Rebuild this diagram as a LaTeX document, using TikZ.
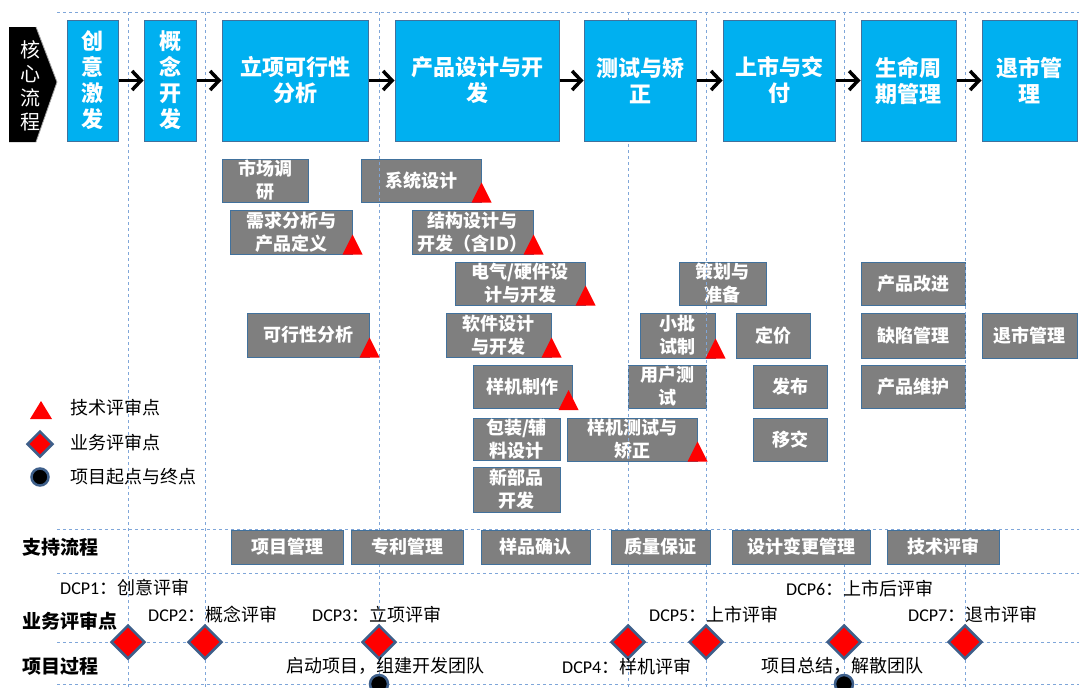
\documentclass[tikz,border=0pt]{standalone}
\usepackage{fontspec}
\setmainfont{Noto Sans CJK SC}
\newfontfamily\latf{Carlito}
\usetikzlibrary{shapes.geometric,arrows.meta}
\definecolor{bblue}{HTML}{00B0F0}
\definecolor{bedge}{HTML}{41719C}
\definecolor{ggray}{HTML}{7F7F7F}
\definecolor{dline}{HTML}{7FA6D9}
\definecolor{dedge}{HTML}{3E5F8A}
\begin{document}
\begin{tikzpicture}[x=1pt,y=-1pt,
  bluebox/.style={draw=bedge,line width=1pt,fill=bblue,text=white,font=\fontsize{22}{26}\selectfont\bfseries,align=center,inner sep=0pt,minimum height=121pt},
  graybox/.style={draw=bedge,line width=1pt,fill=ggray,text=white,font=\fontsize{18}{23}\selectfont\bfseries,align=center,inner sep=0pt},
  flowarrow/.style={line width=3pt,-{Straight Barb[length=9pt,width=19pt,line width=3.5pt]}},
  gridline/.style={dline,line width=1pt,dash pattern=on 3pt off 3pt},
  dcp/.style={diamond,fill=red,draw=dedge,line width=2.5pt,minimum width=34pt,minimum height=34pt,inner sep=0pt},
  endpt/.style={circle,fill=black,draw=dedge,line width=2.5pt,minimum size=18pt,inner sep=0pt},
  lbl/.style={anchor=west,inner sep=0pt,font=\fontsize{18}{22}\selectfont},
  rowlbl/.style={anchor=west,inner sep=0pt,font=\fontsize{19}{22}\selectfont\bfseries},
  tri/.pic={\fill[red] (-10,0) -- (10,0) -- (0,-20) -- cycle;}
]
\useasboundingbox (0,0) rectangle (1079,688);
\fill[white] (0,0) rectangle (1079,688);

% gray activity boxes (below the grid lines)
\node[graybox,minimum width=86pt,minimum height=43pt] (g1) at (265,180.5) {市场调\\研};
\node[graybox,minimum width=120pt,minimum height=43pt] (g2) at (421,180.5) {系统设计};
\node[graybox,minimum width=122pt,minimum height=44pt] (g3) at (291,232) {需求分析与\\产品定义};
\node[graybox,minimum width=121pt,minimum height=44pt] (g4) at (472.5,232) {结构设计与\\开发（含ID）};
\node[graybox,minimum width=130pt,minimum height=43pt] (g5) at (520,283.5) {电气/硬件设\\计与开发};
\node[graybox,minimum width=122pt,minimum height=44pt] (g6) at (308,335) {可行性分析};
\node[graybox,minimum width=105pt,minimum height=44pt] (g7) at (498.5,335) {软件设计\\与开发};
\node[graybox,minimum width=99pt,minimum height=43pt] (g8) at (522.5,386.5) {样机制作};
\node[graybox,minimum width=87pt,minimum height=42pt] (g9) at (516.5,439) {包装/辅\\料设计};
\node[graybox,minimum width=87pt,minimum height=45pt] (g10) at (516.5,489.5) {新部品\\开发};
\node[graybox,minimum width=130pt,minimum height=43pt] (g11) at (632,439.5) {样机测试与\\矫正};
\node[graybox,minimum width=87pt,minimum height=43pt] (g12) at (722.5,283.5) {策划与\\准备};
\node[graybox,minimum width=75pt,minimum height=45pt] (g13) at (677.5,335.5) {小批\\试制};
\node[graybox,minimum width=74pt,minimum height=45pt] (g14) at (773,335.5) {定价};
\node[graybox,minimum width=78pt,minimum height=43pt] (g15) at (667,386.5) {用户测\\试};
\node[graybox,minimum width=74pt,minimum height=43pt] (g16) at (790,386.5) {发布};
\node[graybox,minimum width=74pt,minimum height=43pt] (g17) at (790,439.5) {移交};
\node[graybox,minimum width=104pt,minimum height=43pt] (g18) at (913,283.5) {产品改进};
\node[graybox,minimum width=104pt,minimum height=45pt] (g19) at (913,335.5) {缺陷管理};
\node[graybox,minimum width=104pt,minimum height=43pt] (g20) at (913,386.5) {产品维护};
\node[graybox,minimum width=95pt,minimum height=45pt] (g21) at (1029.5,335.5) {退市管理};

% grid lines
\foreach \x in {128,205,379,628,706,844,965}
  \draw[gridline] (\x,12) -- (\x,688);
\foreach \y in {12,529,573,642,684}
  \draw[gridline] (57,\y) -- (1079,\y);

% core process label
\fill[black] (9,27) -- (36,27) -- (57,82) -- (36,142) -- (9,142) -- cycle;
\draw[gray!70,line width=0.8pt] (36,27) -- (57,82) -- (36,142);
\node[text=white,align=center,inner sep=0pt,font=\fontsize{20}{24}\selectfont] (core) at (30,86) {核\\心\\流\\程};

% blue phase boxes
\node[bluebox,minimum width=51pt] (b1) at (92.5,80.5) {创\\意\\激\\发};
\node[bluebox,minimum width=52pt] (b2) at (170,80.5) {概\\念\\开\\发};
\node[bluebox,minimum width=146pt] (b3) at (295,80.5) {立项可行性\\分析};
\node[bluebox,minimum width=164pt] (b4) at (477,80.5) {产品设计与开\\发};
\node[bluebox,minimum width=112pt] (b5) at (640,80.5) {测试与矫\\正};
\node[bluebox,minimum width=112pt] (b6) at (779,80.5) {上市与交\\付};
\node[bluebox,minimum width=95pt] (b7) at (908.5,80.5) {生命周\\期管理};
\node[bluebox,minimum width=95pt] (b8) at (1029.5,80.5) {退市管\\理};
\foreach \a/\b in {b1/b2,b2/b3,b3/b4,b4/b5,b5/b6,b6/b7,b7/b8}
  \draw[flowarrow] (\a.east) -- (\b.west);

% technical review triangles
\pic at (g2.south east) {tri};
\pic at (g3.south east) {tri};
\pic at (g4.south east) {tri};
\pic at (g5.south east) {tri};
\pic at (g6.south east) {tri};
\pic at (g7.south east) {tri};
\pic at ([xshift=-4pt,yshift=-1.5pt]g8.south east) {tri};
\pic at (g11.south east) {tri};
\pic at (g13.south east) {tri};

% support process boxes
\node[graybox,minimum width=112pt,minimum height=34pt] (s1) at (287,547) {项目管理};
\node[graybox,minimum width=112pt,minimum height=34pt] (s2) at (407,547) {专利管理};
\node[graybox,minimum width=109pt,minimum height=34pt] (s3) at (535.5,547) {样品确认};
\node[graybox,minimum width=99pt,minimum height=34pt] (s4) at (660.5,547) {质量保证};
\node[graybox,minimum width=138pt,minimum height=34pt] (s5) at (801,547) {设计变更管理};
\node[graybox,minimum width=112pt,minimum height=34pt] (s6) at (943,547) {技术评审};

% row labels
\node[rowlbl] (r1) at (22,547) {支持流程};
\node[rowlbl] (r2) at (22,621) {业务评审点};
\node[rowlbl] (r3) at (22,666) {项目过程};

% decision check points
\node[dcp] (d1) at (128,642) {};
\node[dcp] (d2) at (205,642) {};
\node[dcp] (d3) at (379,642) {};
\node[dcp] (d4) at (628,642) {};
\node[dcp] (d5) at (706,642) {};
\node[dcp] (d6) at (844,642) {};
\node[dcp] (d7) at (965,642) {};
\node[endpt] (e1) at (379,684) {};
\node[endpt] (e2) at (844,684) {};

\node[lbl] (t1) at (60,588) {{\latf DCP1}：创意评审};
\node[lbl] (t2) at (148,615) {{\latf DCP2}：概念评审};
\node[lbl] (t3) at (312,615) {{\latf DCP3}：立项评审};
\node[lbl] (t4) at (562,667) {{\latf DCP4}：样机评审};
\node[lbl] (t5) at (649,615) {{\latf DCP5}：上市评审};
\node[lbl] (t6) at (786,589) {{\latf DCP6}：上市后评审};
\node[lbl] (t7) at (908,615) {{\latf DCP7}：退市评审};
\node[lbl] (p1) at (286,666) {启动项目，组建开发团队};
\node[lbl] (p2) at (761,666) {项目总结，解散团队};

% legend
\fill[red] (30,419) -- (52,419) -- (41,401) -- cycle;
\node[dcp,minimum width=26pt,minimum height=26pt] (ld) at (40,444) {};
\node[endpt,minimum size=17pt] (lc) at (40,477) {};
\node[lbl] (l1) at (70,408) {技术评审点};
\node[lbl] (l2) at (70,443) {业务评审点};
\node[lbl] (l3) at (70,477) {项目起点与终点};
\end{tikzpicture}
\end{document}
